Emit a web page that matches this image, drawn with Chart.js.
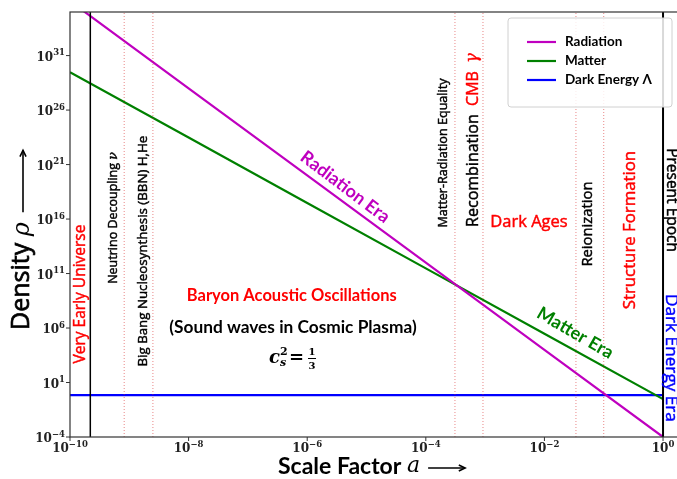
<!DOCTYPE html>
<html>
<head>
<meta charset="utf-8">
<script src="https://cdn.jsdelivr.net/npm/chart.js@4.4.1/dist/chart.umd.min.js"></script>
<style>
  html, body { margin: 0; padding: 0; background: #fff; overflow: hidden; }
</style>
</head>
<body>
<canvas id="chart" width="677" height="479"></canvas>
<script>
// densities vs scale factor
const scaleFactor = [1e-10, 1e-8, 1e-6, 1e-4, 1e-2, 1];
const radiation = [1e36, 1e28, 1e20, 1e12, 1e4, 1e-4];
const matter = [3e29, 3e23, 3e17, 3e11, 3e5, 0.3];
const darkEnergy = [0.7, 0.7, 0.7, 0.7, 0.7, 0.7];

// vertical markers
const epochLines = [2.2e-10, 1];                              // solid black
const eventLines = [8.2e-10, 2.5e-9, 3.1e-4, 9.2e-4, 0.034, 0.1]; // red dotted

// ticks
const xTicks = [1e-10, 1e-8, 1e-6, 1e-4, 1e-2, 1];
const xTickExp = ["\u221210", "\u22128", "\u22126", "\u22124", "\u22122", "0"];
const yTicks = [1e-4, 1e1, 1e6, 1e11, 1e16, 1e21, 1e26, 1e31];
const yTickExp = ["\u22124", "1", "6", "11", "16", "21", "26", "31"];

const SANS = '"Open Sans", "DejaVu Sans", sans-serif';
const BOLD = 'Lato, "DejaVu Sans", sans-serif';
const SERIF = '"DejaVu Serif", "Liberation Serif", serif';
const sans = size => `${size}px ${SANS}`;
const bold = size => `bold ${size}px ${BOLD}`;
const RED = "#ff0000";

// text labels placed in data coordinates
const notes = [
  { a: 10 ** -9.83, rho: 10 ** 9.12, rot: 90, parts: [{ text: "Very Early Universe", color: RED, font: sans(15.5) }] },
  { a: 10 ** -9.27, rho: 10 ** 16.1, rot: 90, parts: [
      { text: "Neutrino Decoupling ", color: "#000", font: sans(12.5) },
      { text: "\u03bd", color: "#000", font: `italic 12.5px ${SERIF}` }] },
  { a: 10 ** -8.77, rho: 10 ** 13.06, rot: 90, parts: [{ text: "Big Bang Nucleosynthesis (BBN) H,He", color: "#000", font: sans(13.3) }] },
  { a: 10 ** -3.71, rho: 10 ** 22.06, rot: 90, parts: [{ text: "Matter-Radiation Equality", color: "#000", font: sans(12.6) }] },
  { a: 10 ** -3.2, rho: 10 ** 23.25, rot: 90, parts: [
      { text: "Recombination  ", color: "#000", font: sans(16) },
      { text: "CMB  ", color: RED, font: sans(16) },
      { text: "\u03b3", color: RED, font: `italic 16px ${SERIF}` }] },
  { a: 10 ** -2.26, rho: 10 ** 15.72, rot: 0, parts: [{ text: "Dark Ages", color: RED, font: sans(16.5) }] },
  { a: 10 ** -1.265, rho: 10 ** 15.54, rot: 90, parts: [{ text: "Reionization", color: "#000", font: sans(14.8) }] },
  { a: 10 ** -0.56, rho: 10 ** 14.99, rot: 90, parts: [{ text: "Structure Formation", color: RED, font: sans(16.8) }] },
  { a: 10 ** 0.135, rho: 10 ** 17.74, rot: -90, parts: [{ text: "Present Epoch", color: "#000", font: sans(15.5) }] },
  { a: 10 ** 0.135, rho: 10 ** 3.25, rot: -90, parts: [{ text: "Dark Energy Era", color: "#0000ff", font: sans(17.2) }] },
  { a: 10 ** -5.36, rho: 10 ** 18.94, rot: -37, parts: [{ text: "Radiation Era", color: "#bf00bf", font: bold(18) }], heavy: true },
  { a: 10 ** -1.48, rho: 10 ** 5.54, rot: -30, parts: [{ text: "Matter Era", color: "#008000", font: bold(18) }], heavy: true },
  { a: 10 ** -6.26, rho: 10 ** 8.94, rot: 0, parts: [{ text: "Baryon Acoustic Oscillations", color: RED, font: bold(16.5) }], heavy: true },
  { a: 10 ** -6.24, rho: 10 ** 6.09, rot: 0, parts: [{ text: "(Sound waves in Cosmic Plasma)", color: "#000", font: bold(17.3) }], heavy: true },
];

const series = [
  { label: "Radiation", values: radiation, color: "#bf00bf" },
  { label: "Matter", values: matter, color: "#008000" },
  { label: "Dark Energy \u039b", values: darkEnergy, color: "#0000ff" },
];

function drawRich(ctx, x, y, rot, parts, heavy) {
  ctx.save();
  ctx.translate(x, y);
  ctx.rotate(-rot * Math.PI / 180);
  ctx.textBaseline = "middle";
  ctx.textAlign = "left";
  let total = 0;
  parts.forEach(p => { ctx.font = p.font; total += ctx.measureText(p.text).width; });
  let cx = -total / 2;
  parts.forEach(p => {
    ctx.font = p.font;
    ctx.fillStyle = p.color;
    ctx.fillText(p.text, cx, 0);
    if (!heavy) {
      // thicken thin strokes a little
      ctx.strokeStyle = p.color;
      ctx.lineWidth = 0.45;
      ctx.strokeText(p.text, cx, 0);
    }
    cx += ctx.measureText(p.text).width;
  });
  ctx.restore();
}

function drawPower(ctx, xr, yBase, exp, align) {
  ctx.font = `bold 12px ${SERIF}`;
  const w10 = ctx.measureText("10").width;
  ctx.font = `bold 8.5px ${SERIF}`;
  const we = ctx.measureText(exp).width;
  const start = align === "right" ? xr - w10 - we : xr - (w10 + we) / 2;
  ctx.fillStyle = "#222";
  ctx.textAlign = "left";
  ctx.textBaseline = "alphabetic";
  ctx.font = `bold 12px ${SERIF}`;
  ctx.fillText("10", start, yBase);
  ctx.font = `bold 8.5px ${SERIF}`;
  ctx.fillText(exp, start + w10, yBase - 5.5);
}

function arrow(ctx, x0, y0, x1, y1) {
  const ang = Math.atan2(y1 - y0, x1 - x0);
  ctx.beginPath();
  ctx.moveTo(x0, y0);
  ctx.lineTo(x1, y1);
  ctx.stroke();
  ctx.beginPath();
  ctx.moveTo(x1 - 7 * Math.cos(ang - 0.45), y1 - 7 * Math.sin(ang - 0.45));
  ctx.lineTo(x1, y1);
  ctx.lineTo(x1 - 7 * Math.cos(ang + 0.45), y1 - 7 * Math.sin(ang + 0.45));
  ctx.stroke();
}

const decor = {
  id: "decor",
  afterDatasetsDraw(chart) {
    const { ctx, chartArea: ca, scales: { x, y } } = chart;
    ctx.save();

    // frame
    ctx.strokeStyle = "#333";
    ctx.lineWidth = 1.2;
    ctx.strokeRect(ca.left, ca.top, ca.right - ca.left + 2, ca.bottom - ca.top);

    // ticks + labels
    ctx.lineWidth = 1;
    xTicks.forEach((v, i) => {
      const px = x.getPixelForValue(v);
      ctx.beginPath(); ctx.moveTo(px, ca.bottom); ctx.lineTo(px, ca.bottom + 4); ctx.stroke();
      drawPower(ctx, px, ca.bottom + 15, xTickExp[i], "center");
    });
    yTicks.forEach((v, i) => {
      const py = y.getPixelForValue(v);
      ctx.beginPath(); ctx.moveTo(ca.left - 4, py); ctx.lineTo(ca.left, py); ctx.stroke();
      drawPower(ctx, ca.left - 5, py + 5, yTickExp[i], "right");
    });

    // annotations
    notes.forEach(n => drawRich(ctx, x.getPixelForValue(n.a), y.getPixelForValue(n.rho), n.rot, n.parts, n.heavy));

    // sound speed formula
    const fx = x.getPixelForValue(10 ** -6.29), fy = y.getPixelForValue(10 ** 3.34);
    ctx.fillStyle = "#000";
    ctx.textBaseline = "alphabetic";
    ctx.textAlign = "left";
    ctx.font = `bold italic 18px ${SERIF}`;
    ctx.fillText("c", fx - 21, fy + 6);
    ctx.font = `bold italic 11px ${SERIF}`;
    ctx.fillText("s", fx - 10, fy + 9);
    ctx.font = `bold 11px ${SERIF}`;
    ctx.fillText("2", fx - 10, fy - 2);
    ctx.font = `bold 18px ${SERIF}`;
    ctx.fillText("=", fx - 1, fy + 6);
    ctx.font = `bold 10px ${SERIF}`;
    ctx.textAlign = "center";
    ctx.fillText("1", fx + 22, fy - 2);
    ctx.fillText("3", fx + 22, fy + 12);
    ctx.fillRect(fx + 18, fy + 1, 8, 1);

    // axis titles
    ctx.fillStyle = "#000";
    ctx.strokeStyle = "#000";
    ctx.textBaseline = "middle";
    ctx.textAlign = "left";
    ctx.save();
    ctx.translate(22, 330);
    ctx.rotate(-Math.PI / 2);
    ctx.font = sans(25);
    ctx.lineWidth = 0.7;
    ctx.fillText("Density ", 0, 0);
    ctx.strokeText("Density ", 0, 0);
    let w = ctx.measureText("Density ").width;
    ctx.font = `italic 24px ${SERIF}`;
    ctx.fillText("\u03c1", w, 1);
    w += ctx.measureText("\u03c1").width + 10;
    ctx.lineWidth = 1.6;
    arrow(ctx, w, 1, w + 62, 1);
    ctx.restore();

    ctx.font = bold(23);
    ctx.fillText("Scale Factor ", 278, 467);
    let w2 = 278 + ctx.measureText("Scale Factor ").width;
    ctx.font = `italic 22px ${SERIF}`;
    ctx.fillText("a", w2, 466);
    w2 += ctx.measureText("a").width + 8;
    ctx.lineWidth = 1.6;
    arrow(ctx, w2, 468, w2 + 37, 468);

    // legend
    const lx = 508, ly = 18, lw = 164, lh = 89;
    ctx.fillStyle = "rgba(255,255,255,0.85)";
    ctx.strokeStyle = "#d0d0d0";
    ctx.lineWidth = 1;
    ctx.beginPath();
    ctx.roundRect(lx, ly, lw, lh, 3);
    ctx.fill();
    ctx.stroke();
    series.forEach((s, i) => {
      const ry = 42 + i * 19;
      ctx.strokeStyle = s.color;
      ctx.lineWidth = 2.2;
      ctx.beginPath(); ctx.moveTo(527, ry); ctx.lineTo(556, ry); ctx.stroke();
      ctx.fillStyle = "#000";
      ctx.font = bold(13.5);
      ctx.textAlign = "left";
      ctx.textBaseline = "middle";
      ctx.fillText(s.label, 565, ry);
    });

    ctx.restore();
  }
};

const pts = vals => scaleFactor.map((a, i) => ({ x: a, y: vals[i] }));

const datasets = [
  ...eventLines.map(a => ({
    data: [{ x: a, y: 1e-4 }, { x: a, y: 1e35 }],
    borderColor: "rgba(215,40,40,0.7)", borderWidth: 0.8, borderDash: [1, 2],
  })),
  ...epochLines.map((a, i) => ({
    data: [{ x: a, y: 1e-4 }, { x: a, y: 1e35 }],
    borderColor: "#000", borderWidth: i === 1 ? 2 : 1.5,
  })),
  ...series.map(s => ({
    label: s.label, data: pts(s.values), borderColor: s.color, borderWidth: 2.2,
  })),
].map(d => ({ ...d, pointRadius: 0, fill: false, tension: 0 }));

new Chart(document.getElementById("chart"), {
  type: "line",
  data: { datasets },
  options: {
    responsive: false,
    animation: false,
    devicePixelRatio: 1,
    layout: { padding: { left: 70, top: 12, right: 0, bottom: 42 } },
    plugins: { legend: { display: false }, tooltip: { enabled: false } },
    scales: {
      x: { type: "logarithmic", min: 1e-10, max: 1.72, display: false },
      y: { type: "logarithmic", min: 1e-4, max: 1e35, display: false },
    },
  },
  plugins: [decor],
});
</script>
</body>
</html>
